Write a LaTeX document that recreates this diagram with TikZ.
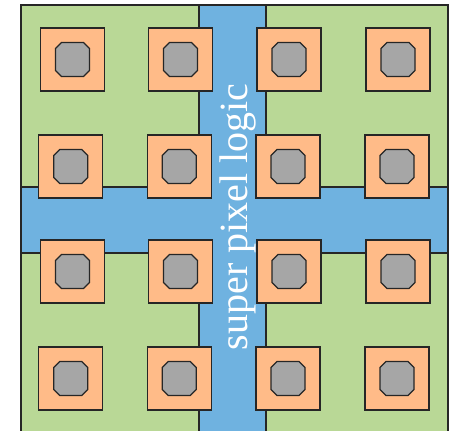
\documentclass[tikz,border=0pt]{standalone}
\usepackage{fontspec}
\setmainfont{Liberation Serif}
\definecolor{pgreen}{RGB}{185,216,150}
\definecolor{pblue}{RGB}{111,178,224}
\definecolor{porange}{RGB}{255,187,136}
\definecolor{pgray}{RGB}{166,166,166}
\begin{document}
\begin{tikzpicture}[x=1pt,y=-1pt,
  region/.style={draw=black!85,line width=1.1pt},
  pad/.style={draw=black!85,fill=porange,line width=1.3pt},
  chip/.style={draw=black!85,fill=pgray,line width=1.2pt}]
\useasboundingbox (0,0) rectangle (459,431);
\clip (0,0) rectangle (459,431);
% background blue
\draw[region,fill=pblue] (21,5) rectangle (448,435);
% green quadrants
\draw[region,fill=pgreen] (21,5) rectangle (199,187);
\draw[region,fill=pgreen] (266,5) rectangle (448,187);
\draw[region,fill=pgreen] (21,253) rectangle (199,435);
\draw[region,fill=pgreen] (266,253) rectangle (448,435);
% label
\node[text=white,font=\fontsize{40}{40}\selectfont,rotate=90,anchor=base] (lbl) at (247,217) {super pixel logic};
% pads
\foreach \cx/\cy in {72.5/59.5,180.5/59.5,289/59.5,398/59.5,
                     70.75/166.5,179.25/166.5,288/166.5,397/166.5,
                     72.5/271.5,180.5/271.5,289/271.5,398/271.5,
                     70.75/378.5,179.25/378.5,288/378.5,397/378.5}{
  \draw[pad] (\cx-32,\cy-31.5) rectangle (\cx+32,\cy+31.5);
  \draw[chip] (\cx-11,\cy-17) -- (\cx+11,\cy-17) -- (\cx+17,\cy-11) -- (\cx+17,\cy+11)
     -- (\cx+11,\cy+17) -- (\cx-11,\cy+17) -- (\cx-17,\cy+11) -- (\cx-17,\cy-11) -- cycle;
}
\end{tikzpicture}
\end{document}
